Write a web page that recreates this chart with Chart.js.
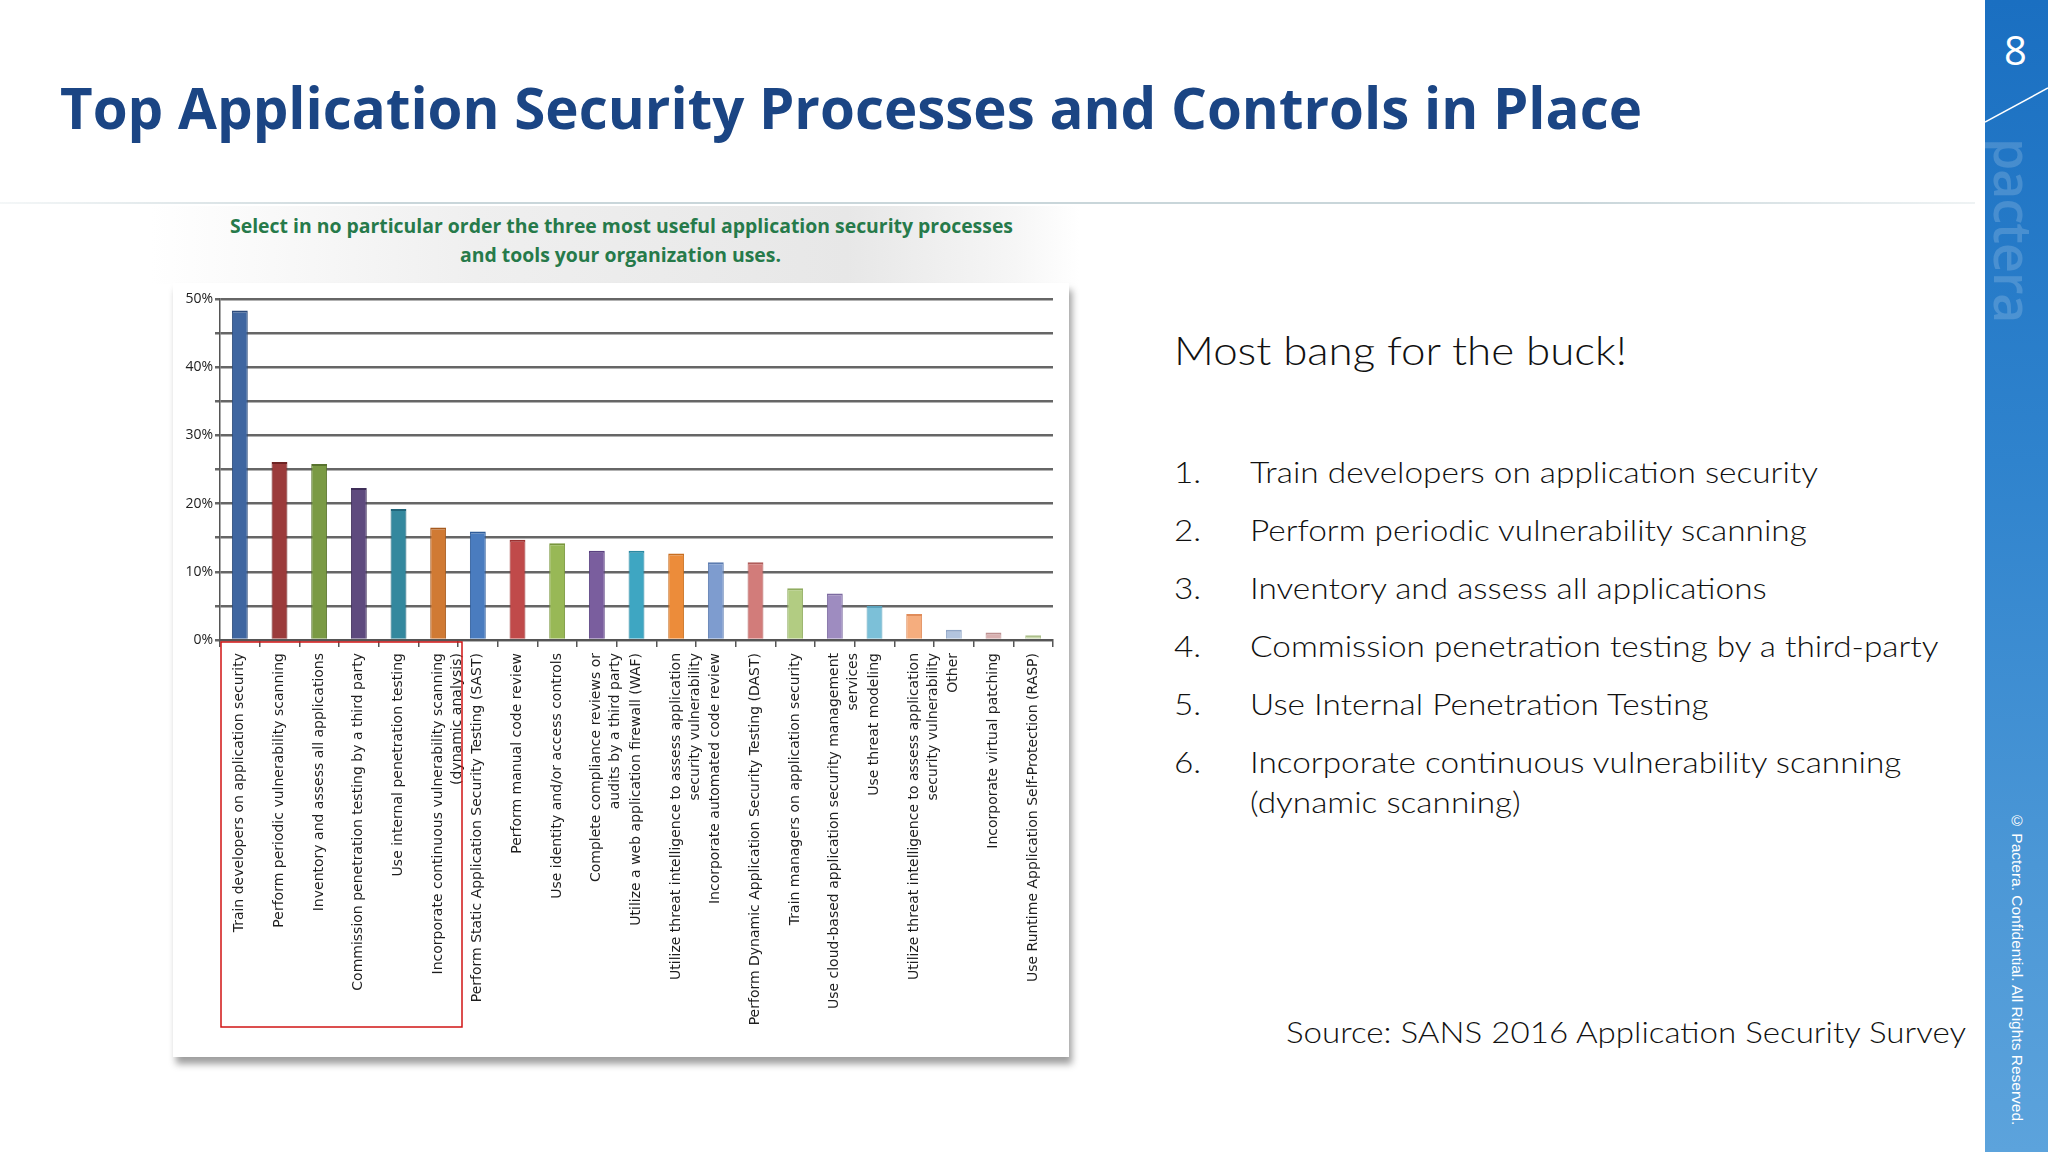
<!DOCTYPE html>
<html>
<head>
<meta charset="utf-8">
<script src="https://cdn.jsdelivr.net/npm/chart.js@4.4.1/dist/chart.umd.min.js"></script>
<style>
  html, body { margin: 0; padding: 0; }
  body { width: 2048px; height: 1152px; position: relative; overflow: hidden; background: #fff; font-family: 'Open Sans', sans-serif; }
  .abs { position: absolute; white-space: nowrap; line-height: 1; transform-origin: left center; }
  #title { left: 60px; top: 78px; font-size: 58px; font-weight: 700; color: #1b4584; }
  #rule { position: absolute; left: 0; top: 202px; width: 1975px; height: 2px;
    background: linear-gradient(to right, rgba(200,214,218,0.2), #c9d6da 20%, #c9d6da 80%, rgba(200,214,218,0.3)); }
  #subbg { position: absolute; left: 150px; top: 206px; width: 930px; height: 78px;
    background: linear-gradient(to right, rgba(255,255,255,1) 0%, #efefef 35%, #e7e7e7 75%, rgba(240,240,240,0.6) 93%, rgba(255,255,255,0) 100%); }
  .sub { font-family: 'Open Sans', sans-serif; font-weight: 700; font-size: 20px; color: #267a4a; }
  #panel { position: absolute; left: 173px; top: 283px; width: 896px; height: 774px; background: #fff;
    box-shadow: 3px 7px 7px rgba(0,0,0,0.38); }
  #chart { position: absolute; left: 0; top: 0; }
  .side { font-family: 'Lato', sans-serif; font-weight: 300; color: #111; }
  #bar { position: absolute; left: 1985px; top: 0; width: 63px; height: 1152px;
    background: linear-gradient(to bottom, #1a6fc1 0%, #2f83cd 40%, #4b97d6 75%, #5ca3dc 100%); }
  #num { position: absolute; left: 2004px; top: 30px; font-family: 'Open Sans', sans-serif; font-size: 40px; color: #fff; line-height: 1; }
  #logo { position: absolute; left: 1988px; top: 138px; writing-mode: vertical-rl; font-family: 'Open Sans', sans-serif;
    font-weight: 600; font-size: 52px; color: rgba(255,255,255,0.17); line-height: 1; letter-spacing: -1px; }
  #copy { position: absolute; left: 2009px; top: 812px; writing-mode: vertical-rl; font-family: 'Liberation Sans', sans-serif;
    font-size: 15.5px; color: #fff; line-height: 1; }
</style>
</head>
<body>
<div id="title" class="abs">Top Application Security Processes and Controls in Place</div>
<div id="rule"></div>
<div id="subbg"></div>
<div id="sub1" class="abs sub" style="top:216px">Select in no particular order the three most useful application security processes</div>
<div id="sub2" class="abs sub" style="top:245px">and tools your organization uses.</div>
<div id="panel"><canvas id="chart" width="896" height="774"></canvas></div>

<div id="head" class="abs side" style="left:1174px; top:331px; font-size:39px;">Most bang for the buck!</div>
<div id="list"></div>
<div id="src" class="abs side" style="left:1286px; top:1016px; font-size:30px;">Source: SANS 2016 Application Security Survey</div>

<div id="bar"></div>
<svg style="position:absolute;left:1985px;top:0" width="63" height="200"><line x1="0" y1="122" x2="63" y2="88" stroke="#fff" stroke-width="1.5"/></svg>
<div id="num">8</div>
<div id="logo">pactera</div>
<div id="copy">© Pactera. Confidential. All Rights Reserved.</div>

<script>
const categories = [
  'Train developers on application security',
  'Perform periodic vulnerability scanning',
  'Inventory and assess all applications',
  'Commission penetration testing by a third party',
  'Use internal penetration testing',
  ['Incorporate continuous vulnerability scanning', '(dynamic analysis)'],
  'Perform Static Application Security Testing (SAST)',
  'Perform manual code review',
  'Use identity and/or access controls',
  ['Complete compliance reviews or', 'audits by a third party'],
  'Utilize a web application firewall (WAF)',
  ['Utilize threat intelligence to assess application', 'security vulnerability'],
  'Incorporate automated code review',
  'Perform Dynamic Application Security Testing (DAST)',
  'Train managers on application security',
  ['Use cloud-based application security management', 'services'],
  'Use threat modeling',
  ['Utilize threat intelligence to assess application', 'security vulnerability'],
  'Other',
  'Incorporate virtual patching',
  'Use Runtime Application Self-Protection (RASP)'
];

const values = [48.3, 26.1, 25.8, 22.3, 19.2, 16.5, 15.9, 14.7, 14.2, 13.1, 13.1,
                12.7, 11.4, 11.4, 7.6, 6.8, 5.0, 3.8, 1.5, 1.1, 0.7];

const yMax = 50;
const yStep = 5;
const yLabelEvery = 10;

const topPicks = [
  'Train developers on application security',
  'Perform periodic vulnerability scanning',
  'Inventory and assess all applications',
  'Commission penetration testing by a third-party',
  'Use Internal Penetration Testing',
  ['Incorporate continuous vulnerability scanning', '(dynamic scanning)']
];

const barColors = ['#3f66a0', '#9b3b3b', '#7a9a44', '#5e4a7e', '#34889e', '#d07a34', '#4a7cbf',
  '#c04a4a', '#98b856', '#7a5e9e', '#3ea6c2', '#ec8c3a', '#7e9ccf', '#d27c7a', '#b2cc82',
  '#9e8cc0', '#7cc0d8', '#f5ad7e', '#b2c4de', '#d8b0b0', '#cbd9b0'];
const barEdges = ['#2b4a7a', '#6e2424', '#58732e', '#3e2e58', '#21657a', '#a5591e', '#2f5c99',
  '#9a3030', '#78963c', '#5a4080', '#2a88a2', '#c86e20', '#5c7cb0', '#b05c5a', '#90ac60',
  '#7c6aa0', '#5aa2bc', '#e08c5a', '#90a6c6', '#bc9090', '#acbf8a'];

// squeeze text horizontally to the width it has on the slide
function fitWidth(el, w) {
  const r = el.getBoundingClientRect().width;
  el.style.transform = `scaleX(${w / r})`;
  return w / r;
}

// numbered list on the right
const list = document.getElementById('list');
const baselines = [483, 541, 599, 657, 715, 773];
const rows = [];
const nums = [];
topPicks.forEach((t, i) => {
  const n = document.createElement('div');
  n.className = 'abs side';
  n.style.cssText = `left:1174px; top:${baselines[i] - 27}px; font-size:30px;`;
  n.textContent = (i + 1) + '.';
  list.appendChild(n);
  nums.push(n);
  const lines = Array.isArray(t) ? t : [t];
  lines.forEach((l, j) => {
    const d = document.createElement('div');
    d.className = 'abs side';
    d.style.cssText = `left:1250px; top:${baselines[i] - 27 + j * 40}px; font-size:30px;`;
    d.textContent = l;
    list.appendChild(d);
    rows.push(d);
  });
});
const k = fitWidth(rows[0], 568);
rows.concat(nums).forEach(r => r.style.transform = `scaleX(${k})`);

fitWidth(document.getElementById('title'), 1582);
fitWidth(document.getElementById('head'), 453);
fitWidth(document.getElementById('src'), 680);
const s1 = document.getElementById('sub1');
const s2 = document.getElementById('sub2');
const ks = fitWidth(s1, 783);
s2.style.transform = `scaleX(${ks})`;
[s1, s2].forEach(el => { el.style.left = (621 - el.offsetWidth * ks / 2) + 'px'; });

const redBox = {
  id: 'redBox',
  afterDraw(chart) {
    const x = chart.scales.x;
    const half = (x.getPixelForValue(1) - x.getPixelForValue(0)) / 2;
    const left = x.getPixelForValue(0) - half + 1;
    const right = x.getPixelForValue(5) + half + 4;
    const top = chart.chartArea.bottom + 2;
    const bottom = chart.chartArea.bottom + 387;
    const ctx = chart.ctx;
    ctx.save();
    ctx.strokeStyle = '#d11414';
    ctx.lineWidth = 1.5;
    ctx.strokeRect(left, top, right - left, bottom - top);
    ctx.restore();
  }
};

new Chart(document.getElementById('chart'), {
  type: 'bar',
  data: {
    labels: categories,
    datasets: [{
      data: values,
      backgroundColor: barColors,
      borderColor: barEdges,
      borderWidth: { top: 2, left: 1, right: 1, bottom: 0 },
      borderSkipped: false,
      barPercentage: 0.4,
      categoryPercentage: 1
    }]
  },
  options: {
    responsive: false,
    animation: false,
    devicePixelRatio: 1,
    layout: { padding: { top: 16, right: 16, left: 0, bottom: 0 } },
    plugins: { legend: { display: false }, tooltip: { enabled: false } },
    scales: {
      x: {
        grid: { drawOnChartArea: false, drawTicks: true, tickLength: 7, color: '#555', lineWidth: 1.5, offset: true },
        border: { color: '#555', width: 2 },
        ticks: {
          autoSkip: false, maxRotation: 90, minRotation: 90, padding: 6,
          color: '#1e1e1e', font: { family: 'DejaVu Sans, Verdana, sans-serif', size: 14, lineHeight: 1.35 }
        },
        afterFit: s => { s.height = 417; }
      },
      y: {
        min: 0, max: yMax,
        grid: { color: '#666', lineWidth: 2.5, drawTicks: true, tickLength: 5 },
        border: { color: '#555', width: 1.5 },
        ticks: {
          stepSize: yStep, padding: 2, color: '#222',
          font: { family: 'Open Sans', size: 14 },
          callback: v => v % yLabelEvery === 0 ? v + '%' : ''
        },
        afterFit: s => { s.width = 47; }
      }
    }
  },
  plugins: [redBox]
});
</script>
</body>
</html>
